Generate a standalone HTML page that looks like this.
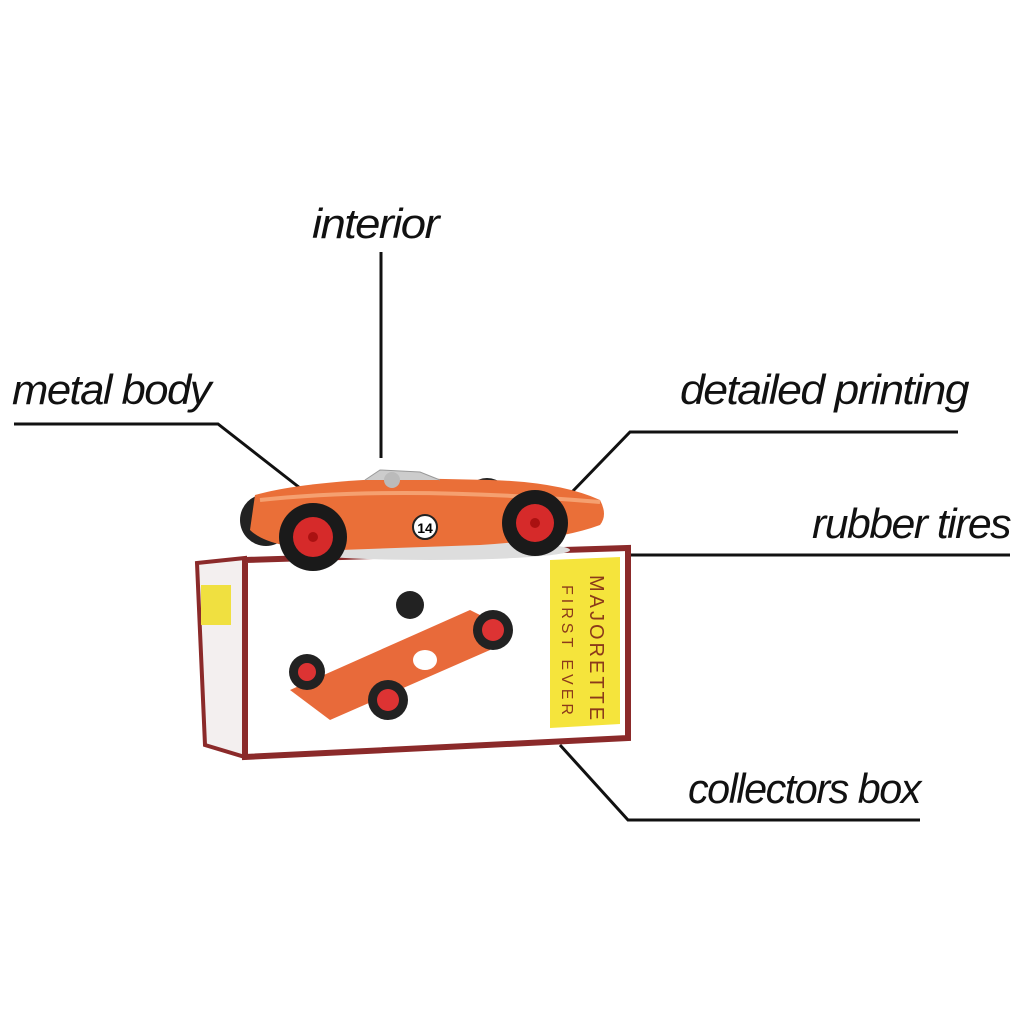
<!DOCTYPE html>
<html><head><meta charset="utf-8"><style>
html,body{margin:0;padding:0;background:#fff;width:1024px;height:1024px;overflow:hidden}
svg{display:block}
.l{font-family:"Liberation Sans",sans-serif;font-style:italic;font-size:42px;fill:#111;letter-spacing:-1.5px}
</style></head><body>
<svg width="1024" height="1024" viewBox="0 0 1024 1024">
<rect width="1024" height="1024" fill="#fff"/>
<!-- labels -->
<text class="l" x="312" y="238" textLength="126" lengthAdjust="spacingAndGlyphs">interior</text>
<text class="l" x="12" y="404" textLength="198" lengthAdjust="spacingAndGlyphs">metal body</text>
<text class="l" x="680" y="404" textLength="288" lengthAdjust="spacingAndGlyphs">detailed printing</text>
<text class="l" x="812" y="538" textLength="198" lengthAdjust="spacingAndGlyphs">rubber tires</text>
<text class="l" x="688" y="803" textLength="232" lengthAdjust="spacingAndGlyphs">collectors box</text>
<g stroke="#111" stroke-width="3" fill="none">
<path d="M381 252V458"/>
<path d="M14 424H218L300 488"/>
<path d="M958 432H630L572 492"/>
<path d="M560 555H1010"/>
<path d="M920 820H628L560 745"/>
</g>
<!-- box -->
<polygon points="197,563 245,558 245,757 205,745" fill="#f3efef" stroke="#8b2a2a" stroke-width="4"/>
<rect x="201" y="585" width="30" height="40" fill="#f0e040"/>
<path d="M245 560L628 548V738L245 757Z" fill="#fff" stroke="#8b2a2a" stroke-width="6"/>
<polygon points="550,560 620,557 620,724 550,728" fill="#f5e43c"/>
<text x="590" y="575" transform="rotate(90 590 575)" font-family="Liberation Sans,sans-serif" font-size="20" fill="#8b3a1a" letter-spacing="3">MAJORETTE</text>
<text x="562" y="585" transform="rotate(90 562 585)" font-family="Liberation Sans,sans-serif" font-size="16" fill="#8b3a1a" letter-spacing="4">FIRST EVER</text>
<!-- car on box -->
<path d="M290 690L470 610L500 625L490 650L330 720Z" fill="#e86a3a"/>
<circle cx="410" cy="605" r="14" fill="#222"/>
<circle cx="307" cy="672" r="18" fill="#222"/><circle cx="307" cy="672" r="9" fill="#d33"/>
<circle cx="388" cy="700" r="20" fill="#222"/><circle cx="388" cy="700" r="11" fill="#d33"/>
<circle cx="493" cy="630" r="20" fill="#222"/><circle cx="493" cy="630" r="11" fill="#d33"/>
<ellipse cx="425" cy="660" rx="12" ry="10" fill="#fff"/>
<!-- car on top -->
<ellipse cx="430" cy="550" rx="140" ry="10" fill="#ddd"/>
<circle cx="266" cy="520" r="26" fill="#222"/><circle cx="266" cy="520" r="14" fill="#d33"/>
<circle cx="487" cy="500" r="22" fill="#222"/>
<path d="M255 495Q300 482 400 478L490 480Q560 482 600 500Q608 515 600 525Q560 540 480 545L340 550Q270 550 250 530Z" fill="#ea6f38"/>
<path d="M260 500Q400 485 600 502" stroke="#f5a070" stroke-width="4" fill="none"/>
<path d="M365 480L380 470L420 472L440 480" fill="#ccc" stroke="#999"/>
<circle cx="392" cy="480" r="8" fill="#bbb"/>
<circle cx="425" cy="527" r="12" fill="#fff" stroke="#222" stroke-width="2"/>
<text x="425" y="533" text-anchor="middle" font-family="Liberation Sans,sans-serif" font-weight="bold" font-size="14">14</text>
<circle cx="313" cy="537" r="34" fill="#1a1a1a"/><circle cx="313" cy="537" r="20" fill="#d62a2a"/><circle cx="313" cy="537" r="5" fill="#a11"/>
<circle cx="535" cy="523" r="33" fill="#1a1a1a"/><circle cx="535" cy="523" r="19" fill="#d62a2a"/><circle cx="535" cy="523" r="5" fill="#a11"/>
</svg>
</body></html>
